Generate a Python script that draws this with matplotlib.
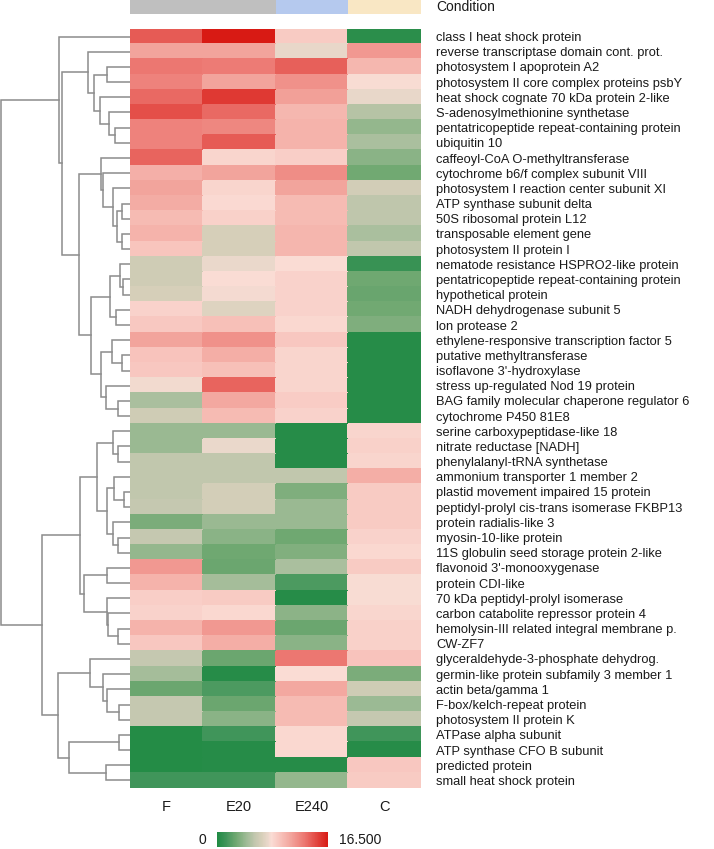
import numpy as np
import matplotlib
matplotlib.use("Agg")
import matplotlib.pyplot as plt
from matplotlib.colors import LinearSegmentedColormap, Normalize
from matplotlib.cm import ScalarMappable

plt.rcParams['font.family'] = ['Liberation Sans', 'DejaVu Sans']

GENES = ["class I heat shock protein", "reverse transcriptase domain cont. prot.",
         "photosystem I apoprotein A2", "photosystem II core complex proteins psbY",
         "heat shock cognate 70 kDa protein 2-like", "S-adenosylmethionine synthetase",
         "pentatricopeptide repeat-containing protein", "ubiquitin 10",
         "caffeoyl-CoA O-methyltransferase", "cytochrome b6/f complex subunit VIII",
         "photosystem I reaction center subunit XI", "ATP synthase subunit delta",
         "50S ribosomal protein L12", "transposable element gene", "photosystem II protein I",
         "nematode resistance HSPRO2-like protein", "pentatricopeptide repeat-containing protein",
         "hypothetical protein", "NADH dehydrogenase subunit 5", "lon protease 2",
         "ethylene-responsive transcription factor 5", "putative methyltransferase",
         "isoflavone 3'-hydroxylase", "stress up-regulated Nod 19 protein",
         "BAG family molecular chaperone regulator 6", "cytochrome P450 81E8",
         "serine carboxypeptidase-like 18", "nitrate reductase [NADH]",
         "phenylalanyl-tRNA synthetase", "ammonium transporter 1 member 2",
         "plastid movement impaired 15 protein", "peptidyl-prolyl cis-trans isomerase FKBP13",
         "protein radialis-like 3", "myosin-10-like protein",
         "11S globulin seed storage protein 2-like", "flavonoid 3'-monooxygenase",
         "protein CDI-like", "70 kDa peptidyl-prolyl isomerase",
         "carbon catabolite repressor protein 4", "hemolysin-III related integral membrane p.",
         "CW-ZF7", "glyceraldehyde-3-phosphate dehydrog.",
         "germin-like protein subfamily 3 member 1", "actin beta/gamma 1",
         "F-box/kelch-repeat protein", "photosystem II protein K", "ATPase alpha subunit",
         "ATP synthase CFO B subunit", "predicted protein", "small heat shock protein"]
SAMPLES = ["F", "E20", "E240", "C"]
CONDITION_COLORS = ["#bfbfbf", "#bfbfbf", "#b5c9ee", "#f9e7c4"]

F = [14, 11, 13, 12.5, 13.5, 14.5, 12.5, 12.5, 13.7, 10.4, 11, 10.6, 9.8, 10.2, 9.3,
     6.3, 6.3, 6.6, 8.6, 9.1, 11, 9.4, 9.2, 7.8, 4.8, 6.3, 4.2, 4.2, 5.6, 5.6, 5.6, 5.8,
     3.2, 5.8, 4.0, 11.5, 10.2, 8.8, 8.6, 10.2, 9.2, 5.8, 4.6, 2.7, 5.8, 5.8, 0.2, 0.2,
     0.2, 1.3]
E20 = [16.5, 11, 12.8, 11, 15.3, 13.5, 12.3, 14, 8.5, 11, 8.5, 8.2, 8.7, 6.6, 6.6,
       7.6, 8.1, 7.9, 7.0, 9.6, 11.8, 10.5, 9.6, 13.7, 10.8, 9.8, 4.2, 7.6, 5.6, 5.6,
       6.5, 6.5, 4.2, 3.7, 2.8, 2.7, 4.6, 9.0, 8.3, 11.5, 10.5, 2.7, 0.3, 1.7, 2.7, 3.7,
       1.3, 0.3, 0.3, 1.3]
E240 = [9, 7.5, 13.8, 11.8, 11.2, 10, 10.2, 10.2, 8.8, 12, 11, 9.8, 9.8, 10.1, 10.1,
        8.1, 8.6, 8.6, 8.6, 8.3, 9.2, 8.5, 8.5, 8.5, 8.9, 8.6, 0.3, 0.3, 0.3, 5.6, 3.3,
        4.2, 4.2, 2.8, 3.4, 4.8, 1.7, 0.3, 3.8, 2.7, 3.7, 13, 8.1, 10.8, 9.8, 9.8, 8.3,
        8.3, 0.3, 4.0]
C = [0.5, 11.5, 10, 8.0, 7.5, 5.2, 4.0, 4.8, 3.7, 2.9, 6.4, 5.5, 5.5, 4.8, 5.6, 1.0,
     2.8, 2.6, 2.9, 3.3, 0.3, 0.3, 0.3, 0.3, 0.3, 0.3, 8.5, 8.7, 8.5, 10.5, 9, 9, 9,
     8.6, 8.3, 9.0, 8.0, 8.0, 8.4, 8.7, 8.7, 9.4, 3.2, 6.2, 4.3, 5.8, 1.3, 0.3, 9.2, 9.0]

# row clustering: (left, right, height), node ids continue after the 50 leaves
MERGES = [(6, 7, 15), (5, 50, 20.7), (2, 3, 22.7), (4, 51, 30), (52, 53, 36),
          (1, 54, 41.7), (11, 12, 8.3), (13, 14, 8), (56, 57, 12.7), (10, 58, 16.7),
          (9, 59, 27.3), (8, 60, 29.3), (16, 17, 7.3), (15, 62, 10), (18, 19, 14),
          (63, 64, 20), (21, 22, 7.7), (20, 66, 17.7), (24, 25, 11.7), (23, 68, 24),
          (67, 69, 29.3), (65, 70, 39), (61, 71, 50.7), (55, 72, 68), (0, 73, 70.7),
          (27, 28, 11.7), (26, 75, 16.7), (30, 31, 6), (29, 77, 15.7), (33, 34, 11.7),
          (32, 79, 16.7), (78, 80, 23.3), (76, 81, 33.3), (35, 36, 23), (39, 40, 11.7),
          (38, 84, 21.7), (37, 85, 23.3), (83, 86, 45.7), (82, 87, 50), (44, 45, 10.7),
          (43, 89, 23.3), (42, 90, 26.7), (41, 91, 40), (46, 47, 10.7), (48, 49, 24),
          (93, 94, 60.7), (92, 95, 71.7), (88, 96, 88.3), (74, 97, 129)]

VMAX = 16.5
cmap = LinearSegmentedColormap.from_list("gwr", [
    (0.0, "#1f8a43"), (0.08, "#41955a"), (0.17, "#70a871"), (0.26, "#9cba94"),
    (0.34, "#c2c7ae"), (0.40, "#d6cfb9"), (0.46, "#ead8cb"), (0.49, "#fadcd4"),
    (0.56, "#f8c6bf"), (0.67, "#f2a39b"), (0.79, "#ec7670"), (1.0, "#d81a14")])

data = np.array([F, E20, E240, C]).T
n_rows = len(GENES)

W, H = 714, 849
fig = plt.figure(figsize=(W / 100, H / 100), dpi=100)


def px_axes(x0, y0, x1, y1):
    return fig.add_axes([x0 / W, 1 - y1 / H, (x1 - x0) / W, (y1 - y0) / H])


# heatmap
ax = px_axes(130, 29, 421, 788)
ax.pcolormesh(data, cmap=cmap, vmin=0, vmax=VMAX, edgecolors="face", linewidth=0.3)
ax.set_xlim(0, 4)
ax.set_ylim(n_rows, 0)
ax.set_yticks(np.arange(n_rows) + 0.5, GENES)
ax.yaxis.tick_right()
ax.set_xticks(np.arange(4) + 0.5, SAMPLES)
ax.tick_params(axis="y", length=0, pad=11, labelsize=9.3, labelcolor="#1a1a1a")
ax.tick_params(axis="x", length=0, pad=8.5, labelsize=10.5, labelcolor="#1a1a1a")
for s in ax.spines.values():
    s.set_visible(False)

# dendrogram
dax = px_axes(0, 29, 130, 788)
pos = {i: i + 0.5 for i in range(n_rows)}
hgt = {i: 0.0 for i in range(n_rows)}
for k, (a, b, h) in enumerate(MERGES):
    node = n_rows + k
    dax.plot([hgt[a], h, h, hgt[b]], [pos[a], pos[a], pos[b], pos[b]],
             color="#8c8c8c", lw=1.1, solid_joinstyle="miter")
    pos[node] = (pos[a] + pos[b]) / 2
    hgt[node] = h
dax.set_xlim(130, 0)
dax.set_ylim(n_rows, 0)
dax.axis("off")

# condition bar
cax_top = px_axes(130, 0, 421, 14)
cax_top.bar(np.arange(4), 1, width=1, color=CONDITION_COLORS)
cax_top.set_xlim(-0.5, 3.5)
cax_top.set_ylim(0, 1)
cax_top.axis("off")
cax_top.text(1 + 15 / 291, 0.5, "Condition", transform=cax_top.transAxes,
             ha="left", va="center", fontsize=10, color="#1a1a1a")

# colour scale
cbax = px_axes(217, 832, 328, 847)
cb = fig.colorbar(ScalarMappable(Normalize(0, VMAX), cmap), cax=cbax, orientation="horizontal")
cb.set_ticks([])
cb.outline.set_visible(False)
cbax.text(-0.1, 0.5, "0", transform=cbax.transAxes, ha="right", va="center",
          fontsize=10, color="#1a1a1a")
cbax.text(1.1, 0.5, f"{VMAX:.3f}", transform=cbax.transAxes, ha="left", va="center",
          fontsize=10, color="#1a1a1a")

fig.savefig("out.png", dpi=100)
